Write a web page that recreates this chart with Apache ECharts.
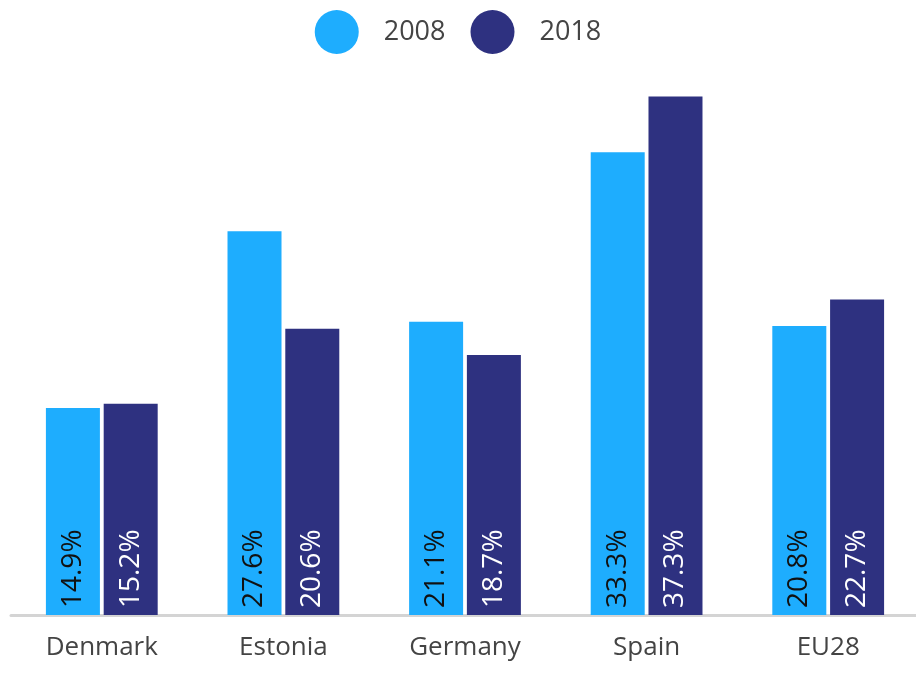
<!DOCTYPE html>
<html>
<head>
<meta charset="utf-8">
<script src="https://cdn.jsdelivr.net/npm/echarts@6/dist/echarts.min.js"></script>
<style>
  html, body { margin: 0; padding: 0; background: #fff; }
  #chart { width: 916px; height: 673px; }
</style>
</head>
<body>
<div id="chart"></div>
<script>
const countries = ['Denmark', 'Estonia', 'Germany', 'Spain', 'EU28']
const years = ['2008', '2018']
const values2008 = [14.9, 27.6, 21.1, 33.3, 20.8]
const values2018 = [15.2, 20.6, 18.7, 37.3, 22.7]

const font = '"Open Sans", sans-serif'

const chart = echarts.init(document.getElementById('chart'))

const barLabel = (color) => ({
  show: true,
  position: 'insideBottom',
  rotate: 90,
  align: 'left',
  verticalAlign: 'middle',
  distance: 7,
  color: color,
  fontSize: 28,
  fontFamily: font,
  formatter: (p) => p.value.toFixed(1) + '%'
})

chart.setOption({
  animation: false,
  legend: {
    top: 5,
    left: 'center',
    icon: 'circle',
    itemWidth: 44,
    itemHeight: 44,
    itemGap: 25,
    data: years,
    textStyle: {
      fontSize: 27,
      color: '#444',
      fontFamily: font,
      padding: [0, 0, 0, 20]
    }
  },
  grid: { left: 11, right: -3, top: 59, bottom: 58, outerBoundsMode: 'none' },
  xAxis: {
    type: 'category',
    data: countries,
    axisLine: { lineStyle: { color: '#d4d4d4', width: 3 } },
    axisTick: { show: false },
    axisLabel: { fontSize: 26, color: '#444', fontFamily: font, margin: 20 }
  },
  yAxis: {
    type: 'value',
    min: 0,
    max: 40,
    show: false
  },
  series: [
    {
      name: years[0],
      type: 'bar',
      data: values2008,
      barWidth: 54,
      barGap: '7%',
      itemStyle: { color: '#1eadfe' },
      label: barLabel('#111')
    },
    {
      name: years[1],
      type: 'bar',
      data: values2018,
      barWidth: 54,
      itemStyle: { color: '#2e3180' },
      label: barLabel('#fff')
    }
  ]
})
</script>
</body>
</html>
